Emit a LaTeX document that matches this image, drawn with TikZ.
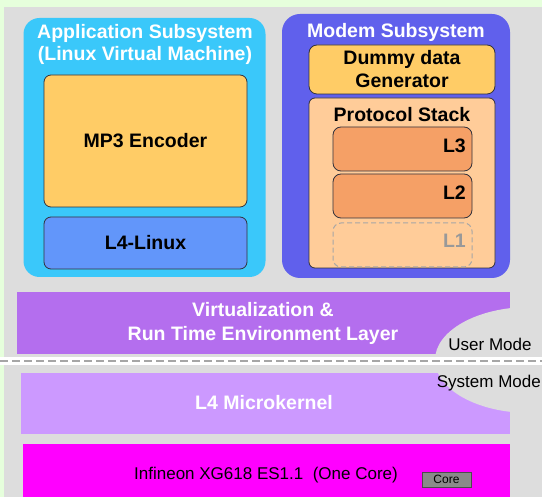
\documentclass[tikz,border=0pt]{standalone}
\usepackage{fontspec}
\setmainfont{Liberation Sans}

% palette
\definecolor{bgGreen}{RGB}{230,255,220}
\definecolor{panelGray}{RGB}{221,221,221}
\definecolor{appCyan}{RGB}{58,200,250}
\definecolor{mp3Orange}{RGB}{255,204,102}
\definecolor{linuxBlue}{RGB}{98,150,250}
\definecolor{modemBlue}{RGB}{96,96,236}
\definecolor{stackPeach}{RGB}{255,204,153}
\definecolor{layerSalmon}{RGB}{245,160,102}
\definecolor{virtPurple}{RGB}{180,110,238}
\definecolor{kernelLilac}{RGB}{204,153,255}
\definecolor{socMagenta}{RGB}{255,0,255}
\definecolor{edgeDark}{RGB}{50,50,60}
\definecolor{coreGray}{RGB}{138,138,138}

\tikzset{
  boldtxt/.style={font=\fontsize{19.5}{22}\selectfont\bfseries, align=center, inner sep=0pt},
  plaintxt/.style={font=\fontsize{17}{20}\selectfont, inner sep=0pt},
  panel/.style={draw=none, inner sep=0pt, rounded corners=16pt},
  innerbox/.style={draw=edgeDark, line width=0.8pt, inner sep=0pt, rounded corners=7pt},
  bar/.style={draw=none, inner sep=0pt},
}

\begin{document}
\begin{tikzpicture}[x=1pt,y=-1pt]
  \path[use as bounding box] (0,0) rectangle (542,497);
  \clip (0,0) rectangle (542,497);

  % background and the two grey panels
  \fill[bgGreen] (0,0) rectangle (542,497);
  \fill[panelGray] (4,7) rectangle (542,357);
  \fill[panelGray] (4,365) rectangle (542,497);

  % application subsystem
  \node[panel, fill=appCyan, minimum width=242, minimum height=259] (app) at (144.5,147.5) {};
  \node[boldtxt, text=white] (apptitle) at (145,44) {Application Subsystem\\(Linux Virtual Machine)};
  \node[innerbox, fill=mp3Orange, minimum width=203, minimum height=132] (mp3) at (145.5,141) {};
  \node[boldtxt] (mp3txt) at (mp3.center) {MP3 Encoder};
  \node[innerbox, fill=linuxBlue, minimum width=203, minimum height=52] (linux) at (145.5,243) {};
  \node[boldtxt] (linuxtxt) at (linux.center) {L4-Linux};

  % modem subsystem
  \node[panel, fill=modemBlue, rounded corners=18pt, minimum width=228, minimum height=264] (modem) at (396,146) {};
  \node[boldtxt, text=white] (modemtitle) at (396,32) {Modem Subsystem};
  \node[innerbox, fill=mp3Orange, rounded corners=8pt, minimum width=186, minimum height=49] (dummy) at (402,69.5) {};
  \node[boldtxt, font=\fontsize{19.5}{23}\selectfont\bfseries] (dummytxt) at (dummy.center) {Dummy data\\Generator};
  \node[innerbox, fill=stackPeach, rounded corners=6pt, minimum width=186, minimum height=170] (stack) at (402,183) {};
  \node[boldtxt] (stacktxt) at (402,115) {Protocol Stack};
  \node[innerbox, fill=layerSalmon, rounded corners=8pt, minimum width=139, minimum height=44] (l3) at (402.5,149) {};
  \node[boldtxt, anchor=east] (l3txt) at (466,146) {L3};
  \node[innerbox, fill=layerSalmon, rounded corners=8pt, minimum width=139, minimum height=44] (l2) at (402.5,196) {};
  \node[boldtxt, anchor=east] (l2txt) at (466,193) {L2};
  \node[draw=gray!70, dashed, dash pattern=on 5pt off 3pt, line width=1pt, rounded corners=8pt,
        inner sep=0pt, minimum width=139, minimum height=44] (l1) at (402.5,245) {};
  \node[boldtxt, text=gray!80, anchor=east] (l1txt) at (466,241) {L1};

  % virtualization layer, microkernel and silicon
  \node[bar, fill=virtPurple, minimum width=493, minimum height=62] (virt) at (263.5,323) {};
  \node[bar, fill=kernelLilac, minimum width=489, minimum height=61] (kernel) at (265.5,403.5) {};
  \node[bar, fill=socMagenta, minimum width=487, minimum height=60] (soc) at (266.5,474) {};

  % user / system mode bulge
  \fill[panelGray] (530,360) ellipse [x radius=95, y radius=53];

  % privilege boundary
  \fill[white] (0,357) rectangle (542,365);
  \coordinate (sepL) at (0,361);
  \coordinate (sepR) at (542,361);
  \draw[gray!70, line width=1.4pt, dash pattern=on 8pt off 4pt] (sepL) -- (sepR);

  % layer labels
  \node[boldtxt, text=white, font=\fontsize{19.5}{24}\selectfont\bfseries] (virttxt) at (263,323) {Virtualization \&\\Run Time Environment Layer};
  \node[boldtxt, text=white] (kerneltxt) at (264,403) {L4 Microkernel};
  \node[plaintxt] (soctxt) at (266,475) {Infineon XG618 ES1.1\ \ (One Core)};
  \node[draw=black!70, fill=coreGray, line width=0.8pt, inner sep=0pt,
        minimum width=49, minimum height=15, font=\fontsize{12}{14}\selectfont] (core) at (446.5,479.5) {Core};

  \node[plaintxt] (usermode) at (490,344) {User Mode};
  \node[plaintxt, anchor=east] (sysmode) at (541,383) {System Mode};
\end{tikzpicture}
\end{document}
